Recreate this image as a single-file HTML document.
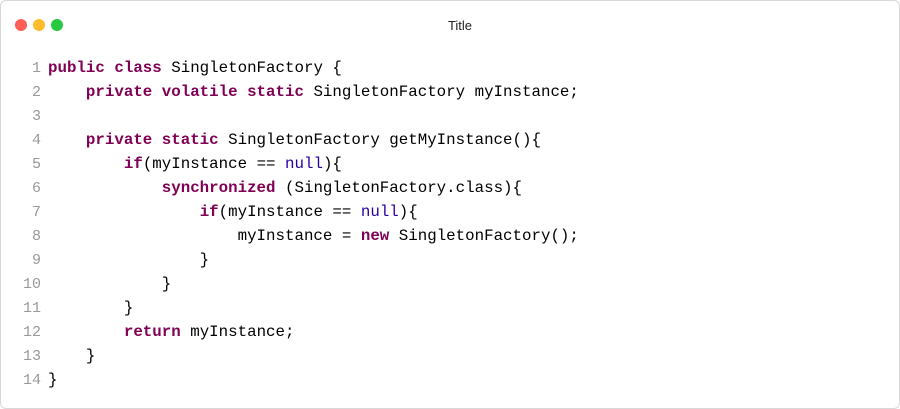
<!DOCTYPE html>
<html><head><style>
body{margin:0;width:900px;height:409px;background:#fff;overflow:hidden}
.win{position:absolute;left:0;top:0;width:898px;height:407px;border:1px solid #d8d8d8;border-radius:6px;background:#fff}
.dot{position:absolute;top:18px;width:12px;height:12px;border-radius:50%}
.title{position:absolute;top:17px;left:0;width:918px;text-align:center;font:13px "Liberation Sans",sans-serif;color:#222}
pre{position:absolute;left:0;top:55px;margin:0;font:15.8px/24px "Liberation Mono",monospace;color:#000}
.n{display:inline-block;width:40px;text-align:right;color:#999;margin-right:7px;font-size:15px;line-height:10px}
.k{color:#7f0055;font-weight:bold}
.u{color:#2a00a0}
</style></head><body><div class="win">
<div class="dot" style="left:14px;background:#fe5f57"></div>
<div class="dot" style="left:32px;background:#febc2e"></div>
<div class="dot" style="left:50px;background:#28c840"></div>
<div class="title">Title</div>
<pre><span class="n">1</span><span class="k">public class</span> SingletonFactory {
<span class="n">2</span>    <span class="k">private volatile static</span> SingletonFactory myInstance;
<span class="n">3</span>
<span class="n">4</span>    <span class="k">private static</span> SingletonFactory getMyInstance(){
<span class="n">5</span>        <span class="k">if</span>(myInstance == <span class="u">null</span>){
<span class="n">6</span>            <span class="k">synchronized</span> (SingletonFactory.class){
<span class="n">7</span>                <span class="k">if</span>(myInstance == <span class="u">null</span>){
<span class="n">8</span>                    myInstance = <span class="k">new</span> SingletonFactory();
<span class="n">9</span>                }
<span class="n">10</span>            }
<span class="n">11</span>        }
<span class="n">12</span>        <span class="k">return</span> myInstance;
<span class="n">13</span>    }
<span class="n">14</span>}</pre>
</div></body></html>
